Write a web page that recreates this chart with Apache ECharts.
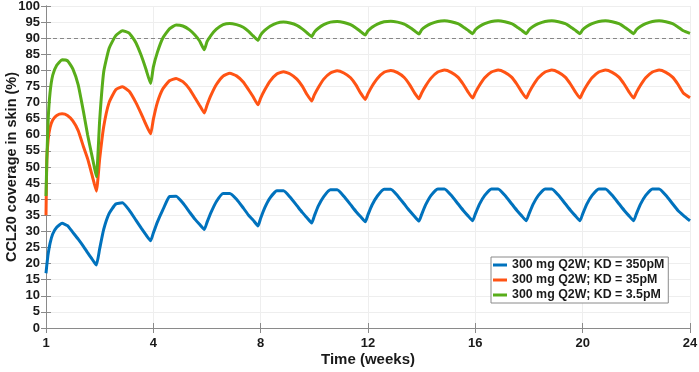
<!DOCTYPE html>
<html>
<head>
<meta charset="utf-8">
<script src="https://cdn.jsdelivr.net/npm/echarts@6.0.0/dist/echarts.min.js"></script>
<style>
  html, body { margin: 0; padding: 0; background: #fff; }
  #chart { width: 699px; height: 372px; }
</style>
</head>
<body>
<div id="chart"></div>
<script>
// time axis (weeks); first tick is labelled "1"
const weeks = [
  0, 0.03, 0.08, 0.15, 0.25, 0.4, 0.6, 0.8, 1.0, 1.2, 1.4, 1.55, 1.7, 1.8, 1.88,
  2.0, 2.15, 2.35, 2.6, 2.85, 3.1, 3.35, 3.55, 3.72, 3.9,
  4.0, 4.15, 4.35, 4.6, 4.85, 5.1, 5.35, 5.55, 5.72, 5.9,
  6.0, 6.15, 6.35, 6.6, 6.85, 7.1, 7.35, 7.55, 7.72, 7.9,
  8.0, 8.15, 8.35, 8.6, 8.85, 9.1, 9.35, 9.55, 9.72, 9.9,
  10.0, 10.15, 10.35, 10.6, 10.85, 11.1, 11.35, 11.55, 11.72, 11.9,
  12.0, 12.15, 12.35, 12.6, 12.85, 13.1, 13.35, 13.55, 13.72, 13.9,
  14.0, 14.15, 14.35, 14.6, 14.85, 15.1, 15.35, 15.55, 15.72, 15.9,
  16.0, 16.15, 16.35, 16.6, 16.85, 17.1, 17.35, 17.55, 17.72, 17.9,
  18.0, 18.15, 18.35, 18.6, 18.85, 19.1, 19.35, 19.55, 19.72, 19.9,
  20.0, 20.15, 20.35, 20.6, 20.85, 21.1, 21.35, 21.55, 21.72, 21.9,
  22.0, 22.15, 22.35, 22.6, 22.85, 23.1, 23.35, 23.55, 23.75, 24
];

// CCL20 coverage in skin (%)
const kd350 = [
  17, 19.5, 23, 26.3, 29.2, 31.3, 32.5, 31.8, 29.7, 27.6, 25.3, 23.4, 21.6, 20.4, 19.6,
  24.6, 30.6, 35.5, 38.5, 38.9, 36.6, 33.5, 31.0, 29.0, 27.1,
  29.5, 32.9, 36.6, 40.8, 40.9, 38.8, 36.0, 33.8, 32.2, 30.6,
  32.8, 35.9, 39.3, 41.8, 41.8, 40.0, 37.3, 35.0, 33.5, 31.7,
  34.1, 37.3, 40.4, 42.6, 42.6, 40.6, 38.0, 35.9, 34.3, 32.6,
  34.8, 37.9, 40.8, 42.9, 42.9, 40.9, 38.3, 36.2, 34.6, 33.0,
  35.2, 38.2, 41.0, 43.1, 43.1, 41.1, 38.5, 36.4, 34.8, 33.2,
  35.3, 38.3, 41.2, 43.2, 43.2, 41.2, 38.6, 36.5, 34.9, 33.3,
  35.4, 38.4, 41.2, 43.2, 43.2, 41.2, 38.6, 36.5, 34.9, 33.3,
  35.4, 38.4, 41.2, 43.2, 43.2, 41.2, 38.6, 36.5, 34.9, 33.3,
  35.4, 38.4, 41.2, 43.2, 43.2, 41.2, 38.6, 36.5, 34.9, 33.3,
  35.4, 38.4, 41.2, 43.2, 43.2, 41.2, 38.6, 36.5, 35.0, 33.3
];
const kd35 = [
  35, 52, 58.5, 62.2, 64.6, 66.0, 66.5, 66.0, 64.3, 61.3, 56.2, 52.6, 48.0, 44.8, 42.5,
  52.5, 62.5, 70.0, 74.0, 74.9, 73.5, 70.0, 66.5, 63.3, 60.3,
  64.8, 70.0, 74.2, 76.8, 77.5, 76.5, 74.2, 71.5, 69.2, 66.8,
  69.2, 72.3, 75.6, 78.2, 79.1, 78.3, 76.4, 74.0, 71.8, 69.3,
  71.4, 73.9, 76.7, 78.9, 79.6, 78.9, 77.3, 75.1, 72.6, 70.5,
  72.4, 74.7, 77.3, 79.2, 79.9, 79.2, 77.7, 75.5, 73.0, 71.0,
  72.8, 75.1, 77.5, 79.4, 80.0, 79.3, 77.8, 75.6, 73.2, 71.2,
  73.0, 75.2, 77.6, 79.5, 80.1, 79.4, 77.9, 75.7, 73.4, 71.4,
  73.1, 75.3, 77.7, 79.5, 80.1, 79.4, 77.9, 75.7, 73.4, 71.4,
  73.1, 75.3, 77.7, 79.5, 80.1, 79.4, 77.9, 75.7, 73.4, 71.4,
  73.1, 75.3, 77.7, 79.5, 80.1, 79.4, 77.9, 75.7, 73.4, 71.4,
  73.1, 75.3, 77.7, 79.5, 80.1, 79.4, 77.9, 75.7, 73.0, 71.5
];
const kd3_5 = [
  41, 52, 64.5, 73, 78.5, 81.6, 83.3, 83.0, 80.5, 75.5, 67.0, 60.0, 54.0, 50.0, 47.0,
  64.5, 79.5, 86.8, 90.8, 92.3, 91.6, 88.6, 84.6, 80.5, 75.9,
  81.0, 85.6, 90.0, 92.9, 94.1, 93.8, 92.6, 91.0, 89.2, 86.4,
  88.9, 90.9, 92.8, 94.2, 94.6, 94.2, 93.4, 92.1, 90.7, 89.3,
  91.0, 92.4, 93.7, 94.7, 95.0, 94.7, 94.0, 92.9, 91.7, 90.5,
  91.9, 93.1, 94.2, 95.0, 95.2, 94.9, 94.2, 93.2, 92.1, 91.0,
  92.3, 93.4, 94.4, 95.1, 95.3, 95.0, 94.4, 93.4, 92.4, 91.3,
  92.6, 93.6, 94.5, 95.2, 95.4, 95.1, 94.5, 93.5, 92.5, 91.4,
  92.6, 93.6, 94.5, 95.2, 95.4, 95.1, 94.5, 93.5, 92.5, 91.4,
  92.6, 93.6, 94.5, 95.2, 95.4, 95.1, 94.5, 93.5, 92.5, 91.4,
  92.6, 93.6, 94.5, 95.2, 95.4, 95.1, 94.5, 93.5, 92.5, 91.4,
  92.6, 93.6, 94.5, 95.2, 95.4, 95.1, 94.5, 93.5, 92.3, 91.5
];

const seriesNames = ['300 mg Q2W; KD = 350pM', '300 mg Q2W; KD = 35pM', '300 mg Q2W; KD = 3.5pM'];
const seriesColors = ['#0072bd', '#ff5314', '#58ad1a'];
const targetLine = 90;

const font = "'Liberation Sans', Arial, sans-serif";
const axisGray = '#8a8a8a';
const textDark = '#1a1a1a';

function pairs(vals) {
  return weeks.map((w, i) => [w, vals[i]]);
}

const chart = echarts.init(document.getElementById('chart'));

const option = {
  animation: false,
  textStyle: { fontFamily: font },
  grid: { left: 46, right: 9, top: 6, bottom: 44, containLabel: false, outerBoundsMode: 'none' },
  legend: {
    orient: 'vertical',
    left: 491,
    top: 257,
    icon: 'rect',
    itemWidth: 14,
    itemHeight: 3,
    itemGap: 3,
    padding: [2, 4, 2, 2],
    borderColor: '#8a8a8a',
    borderWidth: 1,
    backgroundColor: '#fff',
    textStyle: { fontFamily: font, fontWeight: 'bold', fontSize: 12.4, color: textDark },
    data: seriesNames
  },
  xAxis: [
    {
      type: 'value', min: 0, max: 24, interval: 4,
      position: 'bottom',
      name: 'Time (weeks)', nameLocation: 'middle', nameGap: 24, nameMoveOverlap: false,
      nameTextStyle: { fontFamily: font, fontWeight: 'bold', fontSize: 15, color: textDark },
      axisLine: { lineStyle: { color: axisGray, width: 1 } },
      axisTick: { inside: true, length: 5, lineStyle: { color: axisGray } },
      axisLabel: {
        fontFamily: font, fontWeight: 'bold', fontSize: 13, color: textDark, margin: 9,
        formatter: v => (v === 0 ? '1' : String(v))
      },
      splitLine: { show: true, lineStyle: { color: '#eeeeee', width: 1 } }
    },
    {
      type: 'value', min: 0, max: 24, interval: 4,
      position: 'top',
      axisLine: { show: true, lineStyle: { color: axisGray, width: 1 } },
      axisTick: { inside: true, length: 5, lineStyle: { color: axisGray } },
      axisLabel: { show: false },
      splitLine: { show: false }
    }
  ],
  yAxis: [
    {
      type: 'value', min: 0, max: 100, interval: 5,
      position: 'left',
      name: 'CCL20 coverage in skin (%)', nameLocation: 'middle', nameGap: 27, nameMoveOverlap: false,
      nameTextStyle: { fontFamily: font, fontWeight: 'bold', fontSize: 14.5, color: textDark },
      axisLine: { show: true, lineStyle: { color: axisGray, width: 1 } },
      axisTick: { show: true, inside: true, length: 5, lineStyle: { color: axisGray } },
      axisLabel: { fontFamily: font, fontWeight: 'bold', fontSize: 13, color: textDark, margin: 6 },
      splitLine: { show: true, lineStyle: { color: '#eeeeee', width: 1 } }
    },
    {
      type: 'value', min: 0, max: 100, interval: 5,
      position: 'right',
      axisLine: { show: true, lineStyle: { color: axisGray, width: 1 } },
      axisTick: { show: true, inside: true, length: 5, lineStyle: { color: axisGray } },
      axisLabel: { show: false },
      splitLine: { show: false }
    }
  ],
  series: [
    {
      name: seriesNames[0], type: 'line', data: pairs(kd350),
      showSymbol: false, smooth: 0.15, color: seriesColors[0],
      lineStyle: { width: 3, color: seriesColors[0] }, z: 3
    },
    {
      name: seriesNames[1], type: 'line', data: pairs(kd35),
      showSymbol: false, smooth: 0.15, color: seriesColors[1],
      lineStyle: { width: 3, color: seriesColors[1] }, z: 4
    },
    {
      name: seriesNames[2], type: 'line', data: pairs(kd3_5),
      showSymbol: false, smooth: 0.15, color: seriesColors[2],
      lineStyle: { width: 3, color: seriesColors[2] }, z: 5,
      markLine: {
        silent: true, symbol: 'none', label: { show: false },
        lineStyle: { color: '#888888', type: [4, 3], width: 1 },
        data: [{ yAxis: targetLine }]
      }
    }
  ]
};

chart.setOption(option);
</script>
</body>
</html>
